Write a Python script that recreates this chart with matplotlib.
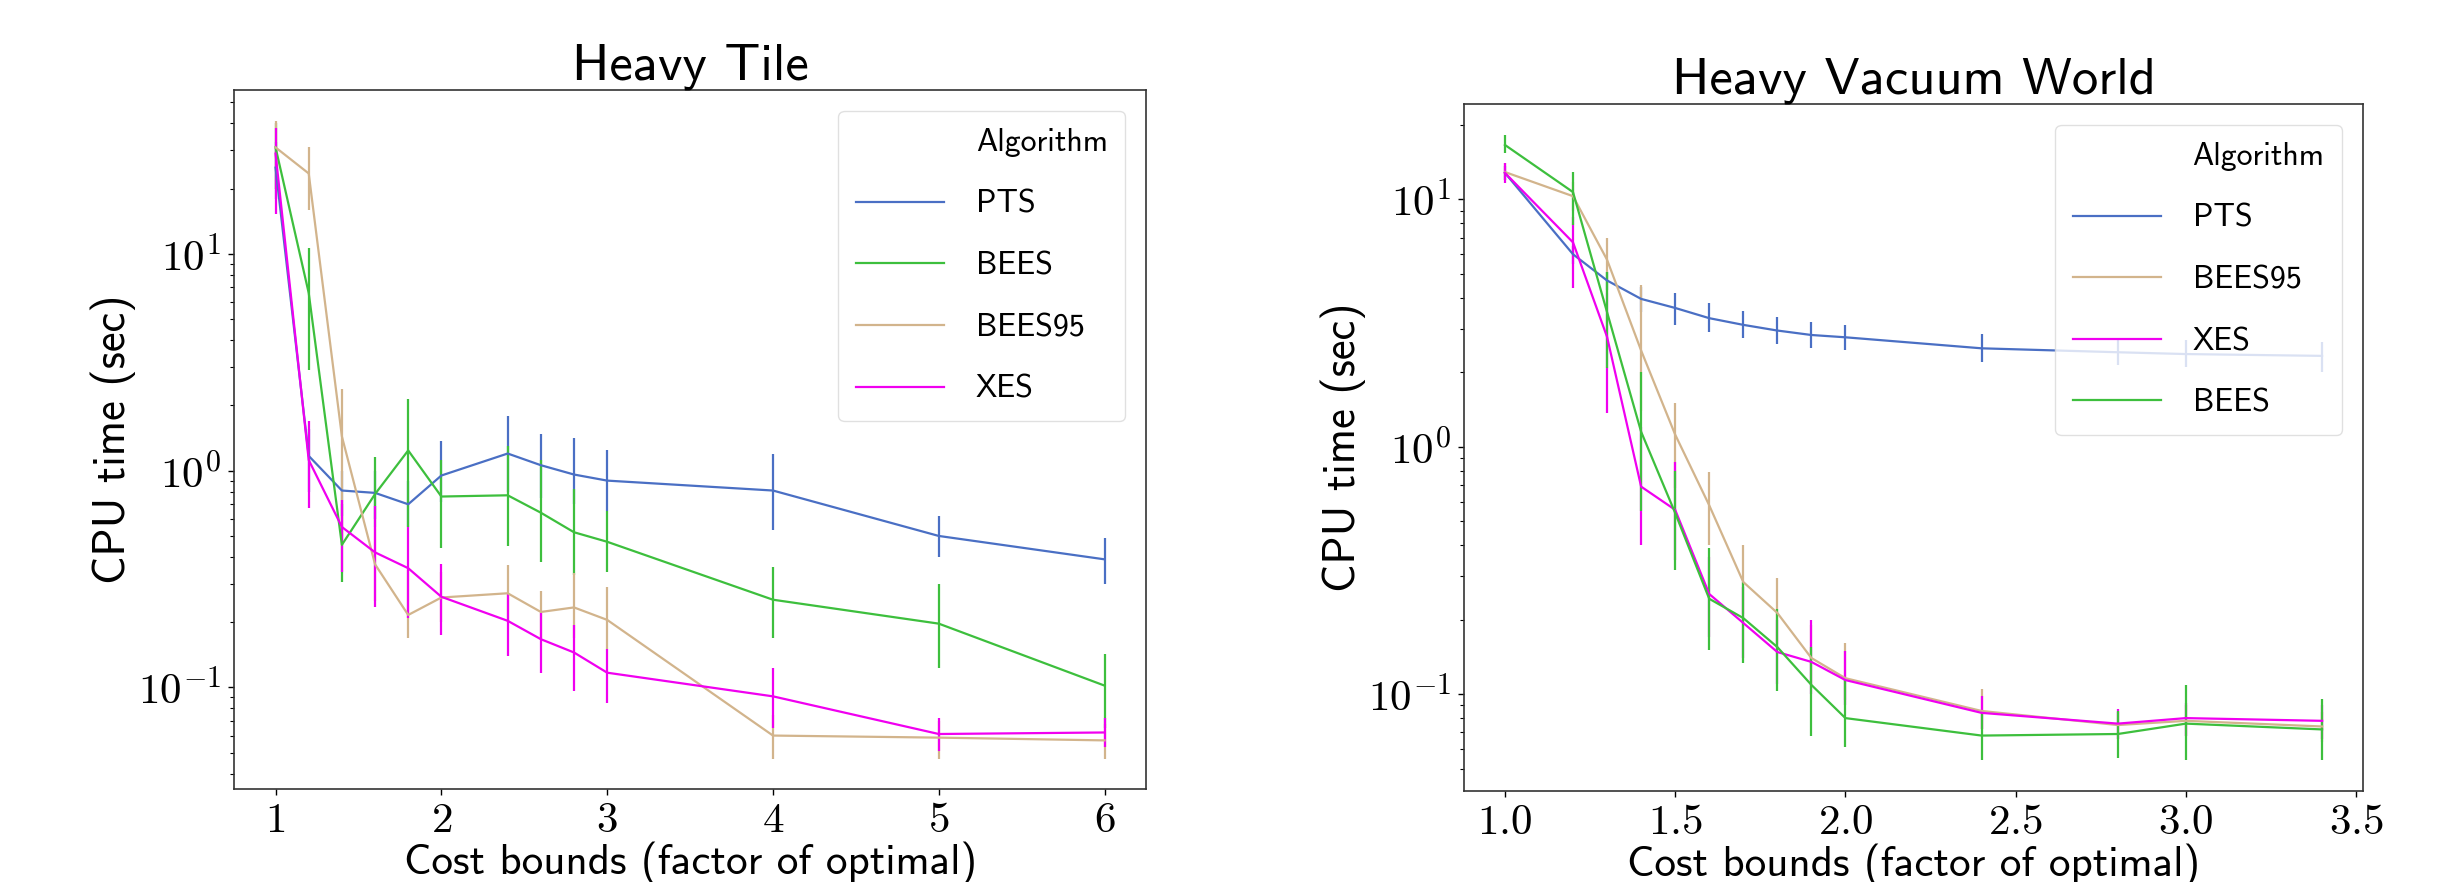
"""
Plot CPU time vs cost bound for the Heavy Tile and Heavy Vacuum World domains.
"""

import matplotlib
matplotlib.use("Agg")
import matplotlib.pyplot as plt
from matplotlib.lines import Line2D
import numpy as np

plt.rcParams['font.family'] = 'cmr10'
plt.rcParams['mathtext.fontset'] = 'cm'
plt.rcParams['axes.formatter.use_mathtext'] = True

SANS = 'cmss10'

# ---- Heavy Tile ----
tile_x = [1, 1.2, 1.4, 1.6, 1.8, 2, 2.4, 2.6, 2.8, 3, 4, 5, 6]
tile_pts = [25, 1.17, 0.81, 0.79, 0.70, 0.95, 1.2, 1.06, 0.96, 0.90, 0.81, 0.50, 0.39]
tile_pts_lo = [18, 0.8, 0.62, 0.6, 0.55, 0.72, 0.8, 0.75, 0.7, 0.65, 0.53, 0.40, 0.30]
tile_pts_hi = [33, 1.55, 1.0, 1.0, 0.9, 1.37, 1.78, 1.47, 1.41, 1.25, 1.2, 0.62, 0.49]
tile_bees = [31, 6.6, 0.455, 0.78, 1.24, 0.76, 0.77, 0.64, 0.52, 0.47, 0.254, 0.197, 0.102]
tile_bees_lo = [20, 2.9, 0.305, 0.55, 0.55, 0.44, 0.45, 0.38, 0.33, 0.34, 0.17, 0.123, 0.065]
tile_bees_hi = [40, 10.7, 0.7, 1.16, 2.15, 1.12, 1.3, 1.12, 0.82, 0.65, 0.36, 0.30, 0.143]
tile_bees95 = [31, 23.5, 1.44, 0.37, 0.216, 0.26, 0.272, 0.223, 0.234, 0.205, 0.060, 0.0587, 0.057]
tile_bees95_lo = [20, 16, 0.5, 0.25, 0.169, 0.2, 0.2, 0.17, 0.17, 0.15, 0.047, 0.047, 0.047]
tile_bees95_hi = [41, 31, 2.38, 0.55, 0.35, 0.34, 0.368, 0.28, 0.336, 0.292, 0.075, 0.07, 0.068]
tile_xes = [29, 1.12, 0.55, 0.42, 0.355, 0.262, 0.203, 0.167, 0.145, 0.117, 0.091, 0.061, 0.062]
tile_xes_lo = [15.3, 0.67, 0.34, 0.236, 0.21, 0.175, 0.139, 0.117, 0.096, 0.085, 0.065, 0.051, 0.053]
tile_xes_hi = [38, 1.69, 0.73, 0.69, 0.55, 0.37, 0.272, 0.22, 0.194, 0.151, 0.123, 0.072, 0.072]

# ---- Heavy Vacuum World ----
vac_x = [1.0, 1.2, 1.3, 1.4, 1.5, 1.6, 1.7, 1.8, 1.9, 2.0, 2.4, 2.8, 3.0, 3.4]
vac_pts = [12.8, 6.0, 4.7, 3.96, 3.64, 3.31, 3.11, 2.95, 2.83, 2.77, 2.50, 2.41, 2.37, 2.33]
vac_pts_lo = [12.0, 5.5, 4.3, 3.5, 3.11, 2.9, 2.75, 2.6, 2.5, 2.45, 2.2, 2.15, 2.1, 2.0]
vac_pts_hi = [13.6, 6.5, 5.1, 4.43, 4.19, 3.8, 3.55, 3.35, 3.2, 3.1, 2.85, 2.7, 2.7, 2.66]
vac_bees95 = [12.9, 10.3, 5.7, 2.45, 1.12, 0.58, 0.284, 0.213, 0.14, 0.116, 0.0855, 0.075, 0.078, 0.074]
vac_bees95_lo = [12.0, 9.0, 4.2, 1.4, 0.68, 0.4, 0.21, 0.16, 0.11, 0.095, 0.072, 0.066, 0.068, 0.064]
vac_bees95_hi = [14.0, 11.8, 7.0, 4.5, 1.5, 0.79, 0.40, 0.295, 0.19, 0.161, 0.105, 0.085, 0.09, 0.085]
vac_xes = [12.8, 6.7, 2.78, 0.69, 0.556, 0.254, 0.194, 0.148, 0.135, 0.114, 0.084, 0.076, 0.080, 0.078]
vac_xes_lo = [11.7, 4.4, 1.37, 0.40, 0.35, 0.17, 0.14, 0.11, 0.1, 0.09, 0.072, 0.066, 0.068, 0.066]
vac_xes_hi = [14.0, 8.5, 4.2, 1.2, 0.87, 0.36, 0.27, 0.2, 0.2, 0.15, 0.098, 0.087, 0.092, 0.09]
vac_bees = [16.6, 10.7, 3.5, 1.15, 0.54, 0.243, 0.203, 0.155, 0.109, 0.080, 0.068, 0.069, 0.076, 0.072]
vac_bees_lo = [15.4, 7.9, 2.08, 0.55, 0.318, 0.151, 0.134, 0.103, 0.068, 0.061, 0.054, 0.055, 0.054, 0.054]
vac_bees_hi = [18.2, 12.9, 5.1, 2.0, 0.8, 0.39, 0.284, 0.22, 0.155, 0.114, 0.084, 0.0855, 0.109, 0.096]

colors = {'PTS': '#4a6fc4', 'BEES': '#3dbf3d', 'BEES95': '#d2b48c', 'XES': '#f000f0'}


def draw_series(ax, x, mean, lo, hi, name):
    mean = np.array(mean)
    yerr = [mean - np.array(lo), np.array(hi) - mean]
    ax.errorbar(x, mean, yerr=yerr, color=colors[name], lw=1.6,
                elinewidth=1.6, capsize=0)
    return Line2D([], [], color=colors[name], lw=1.6, label=name)


def style_axes(ax, title):
    ax.set_yscale('log')
    ax.set_title(title, fontfamily=SANS, fontsize=38, pad=7)
    ax.set_xlabel('Cost bounds (factor of optimal)', fontfamily=SANS, fontsize=31, labelpad=1)
    ax.set_ylabel('CPU time (sec)', fontfamily=SANS, fontsize=32, labelpad=1)
    ax.tick_params(axis='both', which='major', labelsize=31, length=4.5, width=1, pad=5)
    ax.tick_params(axis='both', which='minor', length=3, width=0.8)
    for sp in ax.spines.values():
        sp.set_color('0.2')
        sp.set_linewidth(1.2)


def add_legend(ax, handles):
    blank = Line2D([], [], color='none', label='Algorithm')
    leg = ax.legend(handles=[blank] + handles, loc='upper right',
                    prop={'family': SANS, 'size': 23}, handlelength=2.75,
                    handletextpad=1.0, labelspacing=1.02, borderpad=0.55,
                    borderaxespad=0.65, framealpha=0.8, edgecolor='0.85')
    return leg


fig = plt.figure(figsize=(24.54, 8.82), dpi=100)
ax1 = fig.add_axes([0.0954, 0.1054, 0.3716, 0.7925])
ax2 = fig.add_axes([0.5966, 0.1032, 0.3663, 0.7789])

# Heavy Tile
h = []
h.append(draw_series(ax1, tile_x, tile_pts, tile_pts_lo, tile_pts_hi, 'PTS'))
h.append(draw_series(ax1, tile_x, tile_bees, tile_bees_lo, tile_bees_hi, 'BEES'))
h.append(draw_series(ax1, tile_x, tile_bees95, tile_bees95_lo, tile_bees95_hi, 'BEES95'))
h.append(draw_series(ax1, tile_x, tile_xes, tile_xes_lo, tile_xes_hi, 'XES'))
style_axes(ax1, 'Heavy Tile')
ax1.set_xlim(0.75, 6.25)
ax1.set_ylim(0.034, 57)
ax1.set_xticks([1, 2, 3, 4, 5, 6])
add_legend(ax1, h)

# Heavy Vacuum World
h = []
h.append(draw_series(ax2, vac_x, vac_pts, vac_pts_lo, vac_pts_hi, 'PTS'))
h.append(draw_series(ax2, vac_x, vac_bees95, vac_bees95_lo, vac_bees95_hi, 'BEES95'))
h.append(draw_series(ax2, vac_x, vac_xes, vac_xes_lo, vac_xes_hi, 'XES'))
h.append(draw_series(ax2, vac_x, vac_bees, vac_bees_lo, vac_bees_hi, 'BEES'))
style_axes(ax2, 'Heavy Vacuum World')
ax2.set_xlim(0.88, 3.52)
ax2.set_ylim(0.0406, 24.3)
ax2.set_xticks([1.0, 1.5, 2.0, 2.5, 3.0, 3.5])
add_legend(ax2, h)

fig.savefig('out.png', dpi=100)
